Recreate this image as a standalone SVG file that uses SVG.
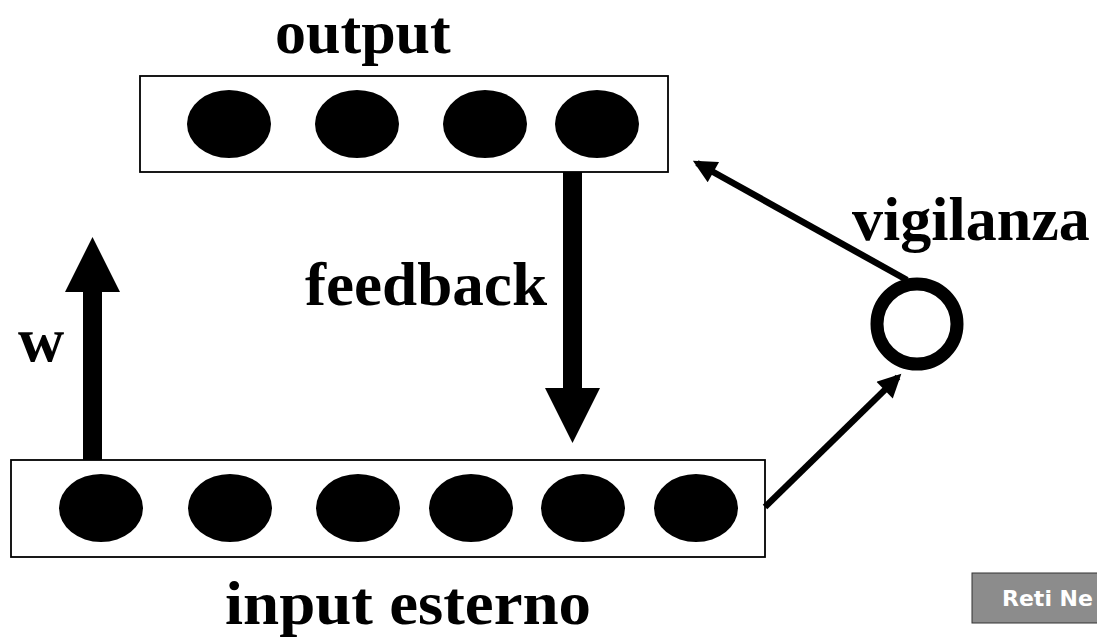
<svg xmlns="http://www.w3.org/2000/svg" width="1097" height="637" viewBox="0 0 1097 637">
  <style>
    .label { font-family: "Liberation Serif", "Times New Roman", serif; font-weight: bold; font-size: 62px; fill: #000; }
    .layer { fill: #fff; stroke: #000; stroke-width: 1.8; }
    .unit { fill: #000; }
    .thin { stroke: #000; stroke-width: 6.5; fill: none; }
    .thick { fill: #000; }
    .footer { font-family: "DejaVu Sans", Verdana, sans-serif; font-weight: bold; font-size: 22px; fill: #fff; }
  </style>
  <defs>
    <marker id="head" viewBox="0 0 10 10" refX="8" refY="5" markerWidth="4" markerHeight="3.6" orient="auto" markerUnits="strokeWidth">
      <path d="M0,0 L10,5 L0,10 Z" fill="#000"/>
    </marker>
  </defs>
  <rect width="1097" height="637" fill="#fff"/>

  <!-- output layer -->
  <g id="output-layer">
    <rect class="layer" x="140" y="76" width="528" height="96"/>
    <ellipse class="unit" cx="229" cy="124" rx="42" ry="34"/>
    <ellipse class="unit" cx="357" cy="124" rx="42" ry="34"/>
    <ellipse class="unit" cx="485" cy="124" rx="42" ry="34"/>
    <ellipse class="unit" cx="597" cy="124" rx="42" ry="34"/>
    <text class="label" x="275" y="53">output</text>
  </g>

  <!-- input layer -->
  <g id="input-layer">
    <rect class="layer" x="11" y="460" width="754" height="97"/>
    <ellipse class="unit" cx="101" cy="508" rx="42" ry="34"/>
    <ellipse class="unit" cx="230" cy="508" rx="42" ry="34"/>
    <ellipse class="unit" cx="358" cy="508" rx="42" ry="34"/>
    <ellipse class="unit" cx="471" cy="508" rx="42" ry="34"/>
    <ellipse class="unit" cx="583" cy="508" rx="42" ry="34"/>
    <ellipse class="unit" cx="696" cy="508" rx="42" ry="34"/>
    <text class="label" x="225" y="624" textLength="366" lengthAdjust="spacingAndGlyphs">input esterno</text>
  </g>

  <!-- vigilance unit -->
  <g id="vigilance">
    <circle cx="917" cy="324" r="40" fill="#fff" stroke="#000" stroke-width="13"/>
    <text class="label" x="852" y="240">vigilanza</text>
  </g>

  <!-- connectors -->
  <g id="connectors">
    <!-- bottom-up weights -->
    <path class="thick" d="M83,460 L83,292 L65,292 L92.5,237 L120,292 L102,292 L102,460 Z"/>
    <text class="label" x="18" y="361" style="font-size:64px">w</text>
    <!-- top-down feedback -->
    <path class="thick" d="M563,172 L563,388 L545,388 L572.5,443 L600,388 L582,388 L582,172 Z"/>
    <text class="label" x="305" y="305" textLength="242" lengthAdjust="spacingAndGlyphs">feedback</text>
    <!-- input to vigilance -->
    <line class="thin" x1="765" y1="507" x2="898" y2="377" marker-end="url(#head)"/>
    <!-- vigilance to output -->
    <line class="thin" x1="907" y1="280" x2="697" y2="163" marker-end="url(#head)"/>
  </g>

  <!-- footer tab -->
  <g id="footer">
    <rect x="972" y="573" width="130" height="50" fill="#8c8c8c" stroke="#333" stroke-width="1"/>
    <text class="footer" x="1002" y="606">Reti Ne</text>
  </g>
</svg>
